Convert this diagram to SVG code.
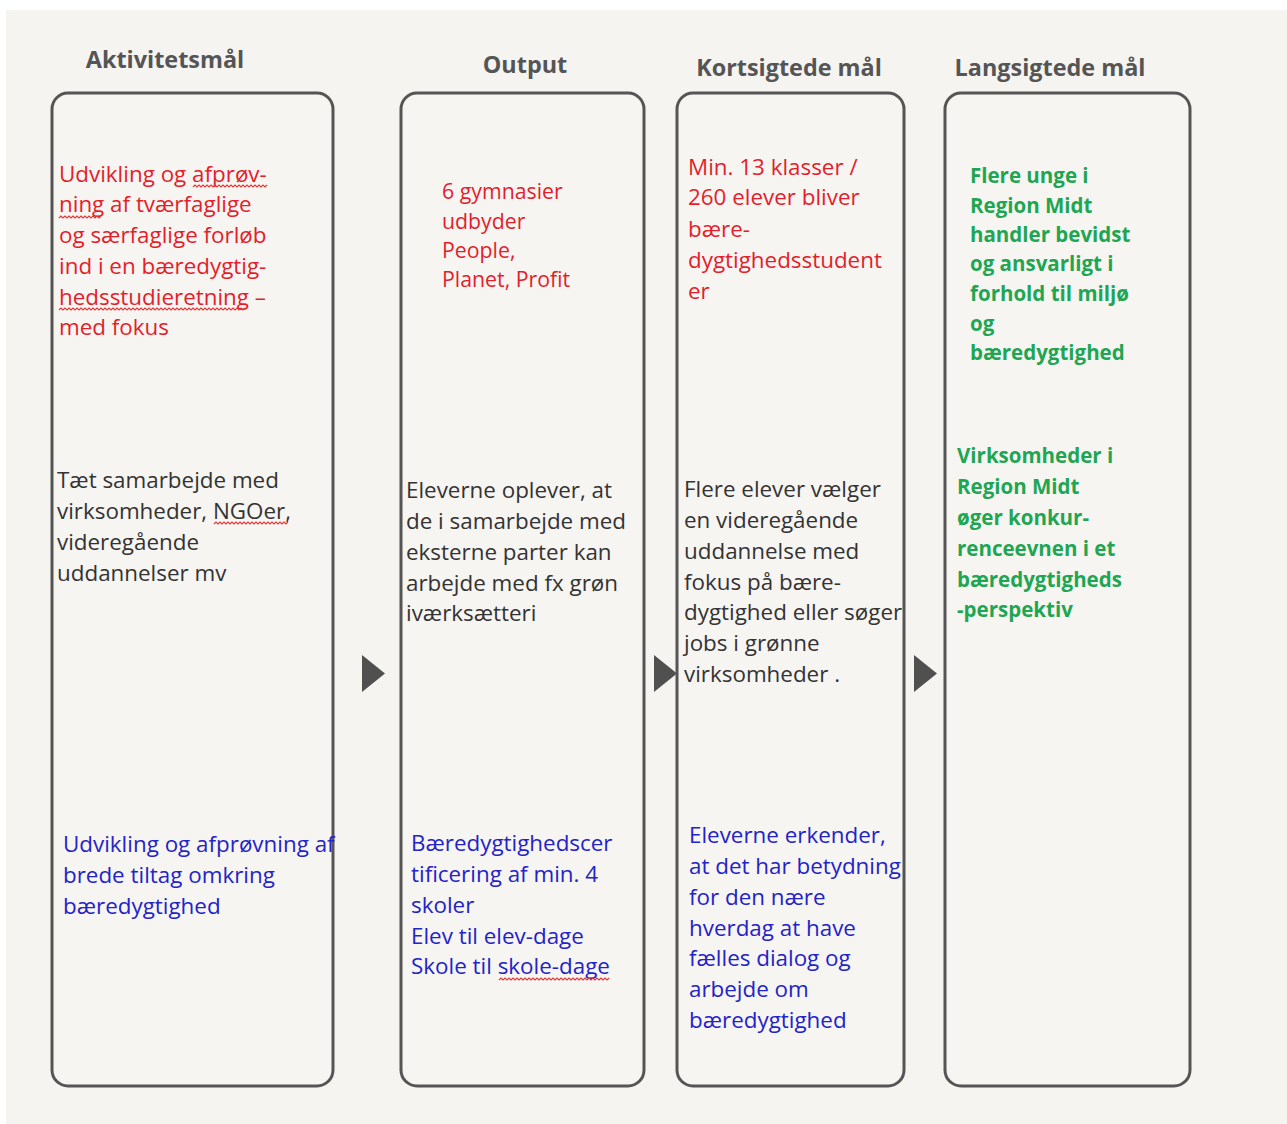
<svg xmlns="http://www.w3.org/2000/svg" width="1287" height="1124" viewBox="0 0 1287 1124">
<style>
.box{fill:#f7f5f2;stroke:#555;stroke-width:3}
.hd{font-family:"Open Sans",Lato,sans-serif;font-weight:bold;font-size:23.4px;fill:#555}
.t{font-family:"Open Sans",Lato,sans-serif;font-size:22.4px;font-weight:500}
.red{fill:#e41e2b}
.blk{fill:#333}
.blue{fill:#2323c8}
.grn{fill:#1fa653;font-weight:bold;font-size:20.5px}
.r2{font-size:21.3px;font-weight:500}
.arr{fill:#505050}
.sq{fill:none;stroke:#e23a3a;stroke-width:1.2}
</style>
<rect x="0" y="0" width="1287" height="1124" fill="#ffffff"/>
<rect x="6" y="10" width="1281" height="1114" fill="#f6f4f1"/>

<g id="headers">
<text class="hd" x="165" y="68" text-anchor="middle">Aktivitetsmål</text>
<text class="hd" x="525" y="73" text-anchor="middle">Output</text>
<text class="hd" x="789" y="76" text-anchor="middle">Kortsigtede mål</text>
<text class="hd" x="1050" y="76" text-anchor="middle">Langsigtede mål</text>
</g>

<g id="connectors">
<polygon class="arr" points="362,655 385,673.5 362,692"/>
<polygon class="arr" points="654,655 677,673.5 654,692"/>
<polygon class="arr" points="914,655 937,673.5 914,692"/>
</g>

<g id="col-aktivitet">
<rect class="box" x="52" y="93" width="281" height="993" rx="16"/>
<text class="t red" x="59" y="182">Udvikling og afprøv-</text>
<text class="t red" x="59" y="212">ning af tværfaglige</text>
<text class="t red" x="59" y="243">og særfaglige forløb</text>
<text class="t red" x="59" y="274">ind i en bæredygtig-</text>
<text class="t red" x="59" y="305">hedsstudieretning –</text>
<text class="t red" x="59" y="335">med fokus</text>
<text class="t blk" x="57" y="488">Tæt samarbejde med</text>
<text class="t blk" x="57" y="519">virksomheder, NGOer,</text>
<text class="t blk" x="57" y="550">videregående</text>
<text class="t blk" x="57" y="581">uddannelser mv</text>
<text class="t blue" x="63" y="852">Udvikling og afprøvning af</text>
<text class="t blue" x="63" y="883">brede tiltag omkring</text>
<text class="t blue" x="63" y="914">bæredygtighed</text>
</g>

<g id="col-output">
<rect class="box" x="401" y="93" width="243" height="993" rx="16"/>
<text class="t red r2" x="442" y="199">6 gymnasier</text>
<text class="t red r2" x="442" y="229">udbyder</text>
<text class="t red r2" x="442" y="258">People,</text>
<text class="t red r2" x="442" y="287">Planet, Profit</text>
<text class="t blk" x="406" y="498">Eleverne oplever, at</text>
<text class="t blk" x="406" y="529">de i samarbejde med</text>
<text class="t blk" x="406" y="560">eksterne parter kan</text>
<text class="t blk" x="406" y="591">arbejde med fx grøn</text>
<text class="t blk" x="406" y="621">iværksætteri</text>
<text class="t blue" x="411" y="851">Bæredygtighedscer</text>
<text class="t blue" x="411" y="882">tificering af min. 4</text>
<text class="t blue" x="411" y="913">skoler</text>
<text class="t blue" x="411" y="944">Elev til elev-dage</text>
<text class="t blue" x="411" y="974">Skole til skole-dage</text>
</g>

<g id="col-kort">
<rect class="box" x="677" y="93" width="227" height="993" rx="16"/>
<text class="t red" x="688" y="175">Min. 13 klasser /</text>
<text class="t red" x="688" y="205">260 elever bliver</text>
<text class="t red" x="688" y="237">bære-</text>
<text class="t red" x="688" y="268">dygtighedsstudent</text>
<text class="t red" x="688" y="299">er</text>
<text class="t blk" x="684" y="497">Flere elever vælger</text>
<text class="t blk" x="684" y="528">en videregående</text>
<text class="t blk" x="684" y="559">uddannelse med</text>
<text class="t blk" x="684" y="590">fokus på bære-</text>
<text class="t blk" x="684" y="620">dygtighed eller søger</text>
<text class="t blk" x="684" y="651">jobs i grønne</text>
<text class="t blk" x="684" y="682">virksomheder .</text>
<text class="t blue" x="689" y="843">Eleverne erkender,</text>
<text class="t blue" x="689" y="874">at det har betydning</text>
<text class="t blue" x="689" y="905">for den nære</text>
<text class="t blue" x="689" y="936">hverdag at have</text>
<text class="t blue" x="689" y="966">fælles dialog og</text>
<text class="t blue" x="689" y="997">arbejde om</text>
<text class="t blue" x="689" y="1028">bæredygtighed</text>
</g>

<g id="col-lang">
<rect class="box" x="945" y="93" width="245" height="993" rx="16"/>
<text class="t grn" x="970" y="183">Flere unge i</text>
<text class="t grn" x="970" y="213">Region Midt</text>
<text class="t grn" x="970" y="242">handler bevidst</text>
<text class="t grn" x="970" y="271">og ansvarligt i</text>
<text class="t grn" x="970" y="301">forhold til miljø</text>
<text class="t grn" x="970" y="331">og</text>
<text class="t grn" x="970" y="360">bæredygtighed</text>
<text class="t grn" x="957" y="463">Virksomheder i</text>
<text class="t grn" x="957" y="494">Region Midt</text>
<text class="t grn" x="957" y="525">øger konkur-</text>
<text class="t grn" x="957" y="556">renceevnen i et</text>
<text class="t grn" x="957" y="587">bæredygtigheds</text>
<text class="t grn" x="957" y="617">-perspektiv</text>
</g>

<g id="spellcheck">
<path class="sq" d="M193,187 l2,-2 l2,2 l2,-2 l2,2 l2,-2 l2,2 l2,-2 l2,2 l2,-2 l2,2 l2,-2 l2,2 l2,-2 l2,2 l2,-2 l2,2 l2,-2 l2,2 l2,-2 l2,2 l2,-2 l2,2 l2,-2 l2,2 l2,-2 l2,2 l2,-2 l2,2 l2,-2 l2,2 l2,-2 l2,2 l2,-2 l2,2 l2,-2 l2,2 l2,-2"/>
<path class="sq" d="M59,218 l2,-2 l2,2 l2,-2 l2,2 l2,-2 l2,2 l2,-2 l2,2 l2,-2 l2,2 l2,-2 l2,2 l2,-2 l2,2 l2,-2 l2,2 l2,-2 l2,2 l2,-2 l2,2 l2,-2"/>
<path class="sq" d="M59,310 l2,-2 l2,2 l2,-2 l2,2 l2,-2 l2,2 l2,-2 l2,2 l2,-2 l2,2 l2,-2 l2,2 l2,-2 l2,2 l2,-2 l2,2 l2,-2 l2,2 l2,-2 l2,2 l2,-2 l2,2 l2,-2 l2,2 l2,-2 l2,2 l2,-2 l2,2 l2,-2 l2,2 l2,-2 l2,2 l2,-2 l2,2 l2,-2 l2,2 l2,-2 l2,2 l2,-2 l2,2 l2,-2 l2,2 l2,-2 l2,2 l2,-2 l2,2 l2,-2 l2,2 l2,-2 l2,2 l2,-2 l2,2 l2,-2 l2,2 l2,-2 l2,2 l2,-2 l2,2 l2,-2 l2,2 l2,-2 l2,2 l2,-2 l2,2 l2,-2 l2,2 l2,-2 l2,2 l2,-2 l2,2 l2,-2 l2,2 l2,-2 l2,2 l2,-2 l2,2 l2,-2 l2,2 l2,-2 l2,2 l2,-2 l2,2 l2,-2 l2,2 l2,-2 l2,2 l2,-2 l2,2 l2,-2 l2,2 l2,-2 l2,2 l2,-2"/>
<path class="sq" d="M214,524 l2,-2 l2,2 l2,-2 l2,2 l2,-2 l2,2 l2,-2 l2,2 l2,-2 l2,2 l2,-2 l2,2 l2,-2 l2,2 l2,-2 l2,2 l2,-2 l2,2 l2,-2 l2,2 l2,-2 l2,2 l2,-2 l2,2 l2,-2 l2,2 l2,-2 l2,2 l2,-2 l2,2 l2,-2 l2,2 l2,-2 l2,2 l2,-2 l2,2 l2,-2"/>
<path class="sq" d="M499,980 l2,-2 l2,2 l2,-2 l2,2 l2,-2 l2,2 l2,-2 l2,2 l2,-2 l2,2 l2,-2 l2,2 l2,-2 l2,2 l2,-2 l2,2 l2,-2 l2,2 l2,-2 l2,2 l2,-2 l2,2 l2,-2 l2,2 l2,-2 l2,2 l2,-2 l2,2 l2,-2 l2,2 l2,-2 l2,2 l2,-2 l2,2 l2,-2 l2,2 l2,-2 l2,2 l2,-2 l2,2 l2,-2 l2,2 l2,-2 l2,2 l2,-2 l2,2 l2,-2 l2,2 l2,-2 l2,2 l2,-2 l2,2 l2,-2 l2,2 l2,-2"/>
</g>
</svg>
